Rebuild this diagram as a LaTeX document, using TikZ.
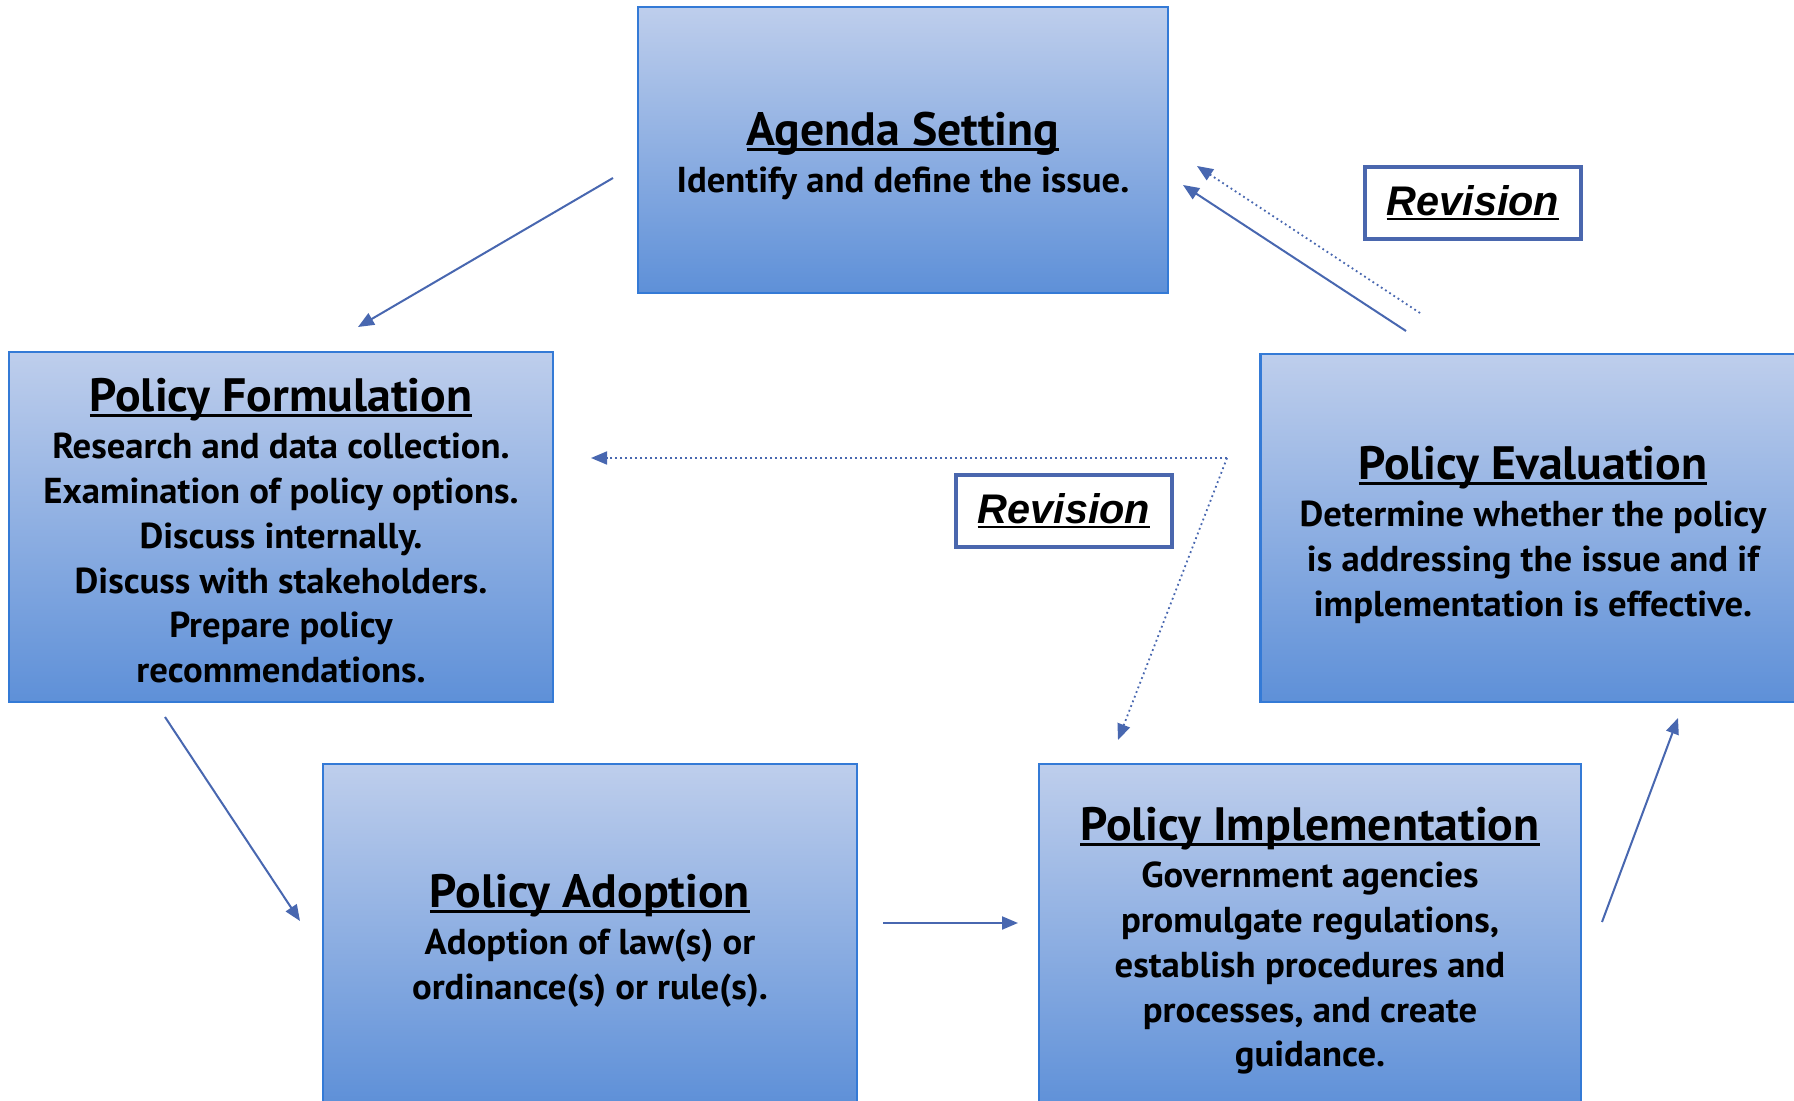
\documentclass[tikz,border=0pt]{standalone}
\usepackage{fontspec}
\setmainfont[FakeStretch=1.02]{PT Sans}
\newfontfamily\revfont{Liberation Sans}
\usetikzlibrary{arrows.meta}
\definecolor{boxtop}{RGB}{190,206,236}
\definecolor{boxmid}{RGB}{140,174,226}
\definecolor{boxbot}{RGB}{94,144,216}
\definecolor{boxline}{RGB}{52,122,214}
\definecolor{arrowc}{RGB}{72,103,176}
\definecolor{revline}{RGB}{74,103,174}
\newcommand\hdul[1]{\setbox0\hbox{#1}\rlap{\rule[-0.11em]{\wd0}{0.065em}}\box0}
\newcommand\hd[1]{{\fontsize{23.4}{22.4}\selectfont\hdul{#1}}}
\begin{document}
\begin{tikzpicture}[x=0.5pt,y=-0.5pt,
  stage/.style={draw=boxline, line width=1.25pt, top color=boxtop, middle color=boxmid, bottom color=boxbot,
    inner sep=0pt},
  stagetext/.style={align=center, inner sep=0pt, text=black, font=\bfseries\fontsize{18}{22.4}\selectfont},
  revbox/.style={draw=revline, line width=2pt, fill=white, minimum width=108pt, minimum height=36pt,
    inner sep=0pt, font=\revfont\bfseries\itshape\fontsize{20.7}{24}\selectfont},
  flow/.style={draw=arrowc, line width=1pt, -{Triangle[length=8pt,width=6.5pt]}},
  dotflow/.style={flow, line width=0.9pt, dash pattern=on 0.9pt off 1.6pt}]
\useasboundingbox (0,0) rectangle (1794,1101);
\clip (0,0) rectangle (1794,1101);
\fill[white] (0,0) rectangle (1794,1101);

\node[stage, minimum width=265pt, minimum height=143pt] (agenda) at (903,150) {};
\node[stagetext] (agendaT) at ([yshift=-3pt]agenda.center)
  {\hd{Agenda Setting}\\[1pt] Identify and define the issue.};
\node[stage, minimum width=272pt, minimum height=175pt] (form) at (281,527) {};
\node[stagetext] (formT) at ([yshift=-2pt]form.center)
  {\hd{Policy Formulation}\\[1pt] Research and data collection.\\ Examination of policy options.\\ Discuss internally.\\ Discuss with stakeholders.\\ Prepare policy\\ recommendations.};
\node[stage, minimum width=272.5pt, minimum height=174pt] (eval) at (1533,528) {};
\node[stagetext] (evalT) at ([yshift=-3.5pt]eval.center)
  {\hd{Policy Evaluation}\\[1pt] Determine whether the policy\\ is addressing the issue and if\\ implementation is effective.};
\node[stage, minimum width=267pt, minimum height=170pt] (adopt) at (590,934) {};
\node[stagetext] (adoptT) at ([yshift=-3.5pt]adopt.center)
  {\hd{Policy Adoption}\\[1pt] Adoption of law(s) or\\ ordinance(s) or rule(s).};
\node[stage, minimum width=271pt, minimum height=173pt] (impl) at (1310,937) {};
\node[stagetext] (implT) at ([yshift=-2pt]impl.center)
  {\hd{Policy Implementation}\\[1pt] Government agencies\\ promulgate regulations,\\ establish procedures and\\ processes, and create\\ guidance.};

\node[revbox] (rev1) at (1473,203) {\hdul{Revision}};
\node[revbox] (rev2) at (1064,511) {\hdul{Revision}};

\coordinate (a1s) at (613,178); \coordinate (a1e) at (358,327);
\coordinate (a2s) at (165,717); \coordinate (a2e) at (300,921);
\coordinate (a3s) at (883,923); \coordinate (a3e) at (1018,923);
\coordinate (a4s) at (1602,922); \coordinate (a4e) at (1678,718);
\coordinate (a5s) at (1406,331); \coordinate (a5e) at (1183,185);
\coordinate (d1s) at (1420,313); \coordinate (d1e) at (1197,166);
\coordinate (corner) at (1227,458);
\coordinate (d2e) at (591,458); \coordinate (d3e) at (1118,740);

\draw[flow] (a1s) -- (a1e);
\draw[flow] (a2s) -- (a2e);
\draw[flow] (a3s) -- (a3e);
\draw[flow] (a4s) -- (a4e);
\draw[flow] (a5s) -- (a5e);
\draw[dotflow] (d1s) -- (d1e);
\draw[dotflow] (corner) -- (d2e);
\draw[dotflow] (corner) -- (d3e);
\end{tikzpicture}
\end{document}
